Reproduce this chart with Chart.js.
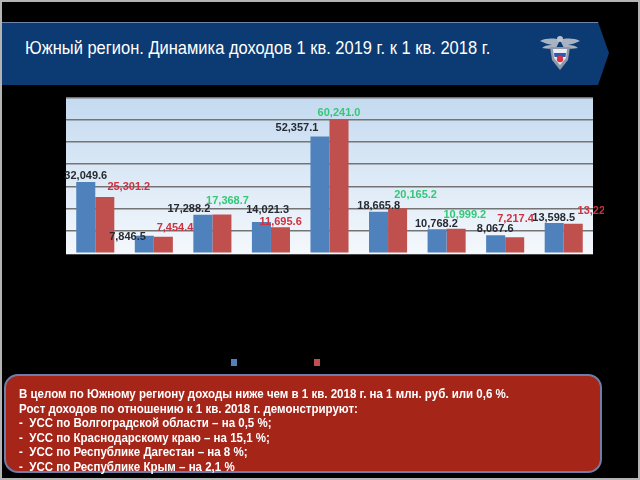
<!DOCTYPE html>
<html>
<head>
<meta charset="utf-8">
<script src="https://cdn.jsdelivr.net/npm/chart.js@4.4.0/dist/chart.umd.min.js"></script>
<style>
  html, body { margin: 0; padding: 0; background: #000; }
  #slide { position: relative; width: 640px; height: 480px; background: #000; overflow: hidden; }
  #frame { position: absolute; left: 0; top: 0; width: 640px; height: 480px; box-sizing: border-box; border: 2px solid #b4b4b4; pointer-events: none; z-index: 5; }
  #header { position: absolute; left: 0; top: 22px; width: 609px; height: 63px; background: #0c3a72;
            clip-path: polygon(0 0, 598px 0, 609px 31px, 598px 63px, 0 63px); }
  #header .topline { position: absolute; left: 0; top: 0; width: 600px; height: 1px; background: #6f86ab; }
  #title { position: absolute; left: 25px; top: 37px; color: #fff; font-family: "Liberation Sans Narrow", "Liberation Sans", Arial, sans-serif;
           font-size: 19px; white-space: nowrap; transform-origin: 0 50%; line-height: 22px; }
  #logo { position: absolute; left: 538px; top: 32px; width: 44px; height: 42px; }
  #chartWrap { position: absolute; left: 0; top: 90px; width: 604px; height: 290px; }
  #box { position: absolute; left: 4px; top: 374px; width: 598px; height: 99px; box-sizing: border-box;
         background: #a52519; border: 2px solid #6f7ea8; border-radius: 14px; }
  #boxText { position: absolute; left: 13px; top: 11px; color: #fff; font-family: "Liberation Sans Narrow", "Liberation Sans", Arial, sans-serif;
             font-weight: bold; font-size: 13px; line-height: 14.6px; white-space: nowrap; transform-origin: 0 0; }
</style>
</head>
<body>
<div id="slide">
  <div id="header"><div class="topline"></div></div>
  <div id="title">Южный регион. Динамика доходов 1 кв. 2019 г. к 1 кв. 2018 г.</div>
  <svg id="logo" viewBox="0 0 44 42">
    <path d="M22 8 C16 6 8 6 2 9 C6 11 10 12 14 13 C9 13 6 14 4 16 C9 17 14 17 18 16 Z" fill="#a9b3c2"/>
    <path d="M22 8 C28 6 36 6 42 9 C38 11 34 12 30 13 C35 13 38 14 40 16 C35 17 30 17 26 16 Z" fill="#a9b3c2"/>
    <circle cx="22" cy="7" r="3" fill="#b9c2cf"/>
    <path d="M12 15 L32 15 L30 28 L22 38 L14 28 Z" fill="#8e99ab"/>
    <path d="M15 17 L29 17 L28 26 L22 33 L16 26 Z" fill="#e8ecf2"/>
    <path d="M16 21 L28 21 L27.5 25 L16.5 25 Z" fill="#2f59b0"/>
    <circle cx="22" cy="27" r="3.2" fill="#d8333f"/>
  </svg>
  <div id="chartWrap"><canvas id="c" width="604" height="290"></canvas></div>
  <div id="box">
    <div id="boxText">
      <div>В целом по Южному региону доходы ниже чем в 1 кв. 2018 г. на 1 млн. руб. или 0,6 %.</div>
      <div>Рост доходов по отношению к 1 кв. 2018 г. демонстрируют:</div>
      <div>-&nbsp; УСС по Волгоградской области – на 0,5 %;</div>
      <div>-&nbsp; УСС по Краснодарскому краю – на 15,1 %;</div>
      <div>-&nbsp; УСС по Республике Дагестан – на 8 %;</div>
      <div>-&nbsp; УСС по Республике Крым – на 2,1 %</div>
    </div>
  </div>
  <div id="frame"></div>
</div>
<script>
// ---- data ----
const categories = ["УСС 1", "УСС 2", "УСС по Волгоградской области", "УСС 4", "УСС по Краснодарскому краю",
                    "УСС по Республике Дагестан", "УСС по Республике Крым", "УСС 8", "УСС 9"];
const seriesNames = ["1 кв. 2018 г.", "1 кв. 2019 г."];
const q1_2018 = [32049.6, 7846.5, 17288.2, 14021.3, 52357.1, 18665.8, 10768.2, 8067.6, 13598.5];
const q1_2019 = [25301.2, 7454.4, 17368.7, 11695.6, 60241.0, 20165.2, 10999.2, 7217.4, 13220.1];
const yTicks = [0, 10000, 20000, 30000, 40000, 50000, 60000, 70000];

// label nudges (px) relative to bar top, per series
const labelNudges = [
  [[0,-5.8],[-16.8,1],[-14,-5.7],[6.2,-12],[-23,-8.2],[0.2,-5.7],[-0.7,-5.3],[-0.5,-6],[-0.5,-4.7]],
  [[24,-10.2],[11.7,-8.4],[5.6,-14],[0.2,-5.2],[0,-5.7],[18,-13.3],[8.7,-13.8],[0.8,-17.9],[25.7,-13]]
];

const fmt = v => v.toLocaleString('en-US', {minimumFractionDigits: 1, maximumFractionDigits: 1});

const bgPlugin = {
  id: 'plotBg',
  beforeDraw(chart) {
    const {ctx, chartArea: a} = chart;
    const g = ctx.createLinearGradient(0, a.top, 0, a.bottom);
    g.addColorStop(0, '#c4daf0');
    g.addColorStop(1, '#f4f8fc');
    ctx.save();
    ctx.fillStyle = g;
    ctx.fillRect(a.left, a.top, a.right - a.left, a.bottom - a.top + 1);
    ctx.restore();
  }
};

const labelPlugin = {
  id: 'valueLabels',
  afterDatasetsDraw(chart) {
    const ctx = chart.ctx;
    ctx.save();
    ctx.font = 'bold 11px "Liberation Sans Narrow", "Liberation Sans", Arial, sans-serif';
    ctx.textAlign = 'center';
    ctx.textBaseline = 'middle';
    chart.data.datasets.forEach((ds, di) => {
      const meta = chart.getDatasetMeta(di);
      meta.data.forEach((bar, i) => {
        const v = ds.data[i];
        let color = '#262a33';
        if (di === 1) color = v > chart.data.datasets[0].data[i] ? '#33c878' : '#d0303f';
        const [dx, dy] = labelNudges[di][i];
        ctx.fillStyle = color;
        ctx.fillText(fmt(v), bar.x + dx, bar.y + dy);
      });
    });
    ctx.restore();
  }
};

const legendPlugin = {
  id: 'miniLegend',
  afterDraw(chart) {
    const ctx = chart.ctx;
    const xs = [231, 314];
    ctx.save();
    chart.data.datasets.forEach((ds, i) => {
      ctx.fillStyle = ds.backgroundColor;
      ctx.fillRect(xs[i], 269, 6, 7);
      ctx.fillStyle = '#000';
      ctx.font = '11px Arial';
      ctx.textBaseline = 'middle';
      ctx.fillText(ds.label, xs[i] + 10, 272.5);
    });
    ctx.restore();
  }
};

new Chart(document.getElementById('c'), {
  type: 'bar',
  data: {
    labels: categories,
    datasets: [
      { label: seriesNames[0], data: q1_2018, backgroundColor: '#4f81bd', categoryPercentage: 0.65, barPercentage: 1.0 },
      { label: seriesNames[1], data: q1_2019, backgroundColor: '#c0504d', categoryPercentage: 0.65, barPercentage: 1.0 }
    ]
  },
  options: {
    responsive: false,
    animation: false,
    layout: { padding: { left: 66, right: 11, top: 7.3, bottom: 126.7 } },
    scales: {
      x: { display: false },
      y: {
        min: yTicks[0], max: yTicks[yTicks.length - 1],
        afterBuildTicks: s => { s.ticks = yTicks.map(v => ({value: v})); },
        afterFit: s => { s.width = 0; },
        ticks: { display: false },
        border: { display: false },
        grid: {
          drawTicks: false,
          color: c => (c.tick && c.tick.value === 0) ? 'rgba(0,0,0,0)' : '#747474',
          lineWidth: 1.6
        }
      }
    },
    plugins: { legend: { display: false }, tooltip: { enabled: false } }
  },
  plugins: [bgPlugin, labelPlugin, legendPlugin]
});

// fit texts to widths seen in the reference
function fitWidth(el, target) {
  const w = el.scrollWidth;
  if (w > 0) el.style.transform = 'scaleX(' + (target / w) + ')';
}
fitWidth(document.getElementById('title'), 465);
(function () {
  const box = document.getElementById('boxText');
  const first = box.firstElementChild;
  const r = document.createRange(); r.selectNodeContents(first);
  const w = r.getBoundingClientRect().width;
  if (w > 0) box.style.transform = 'scaleX(' + (490 / w) + ')';
})();
</script>
</body>
</html>
